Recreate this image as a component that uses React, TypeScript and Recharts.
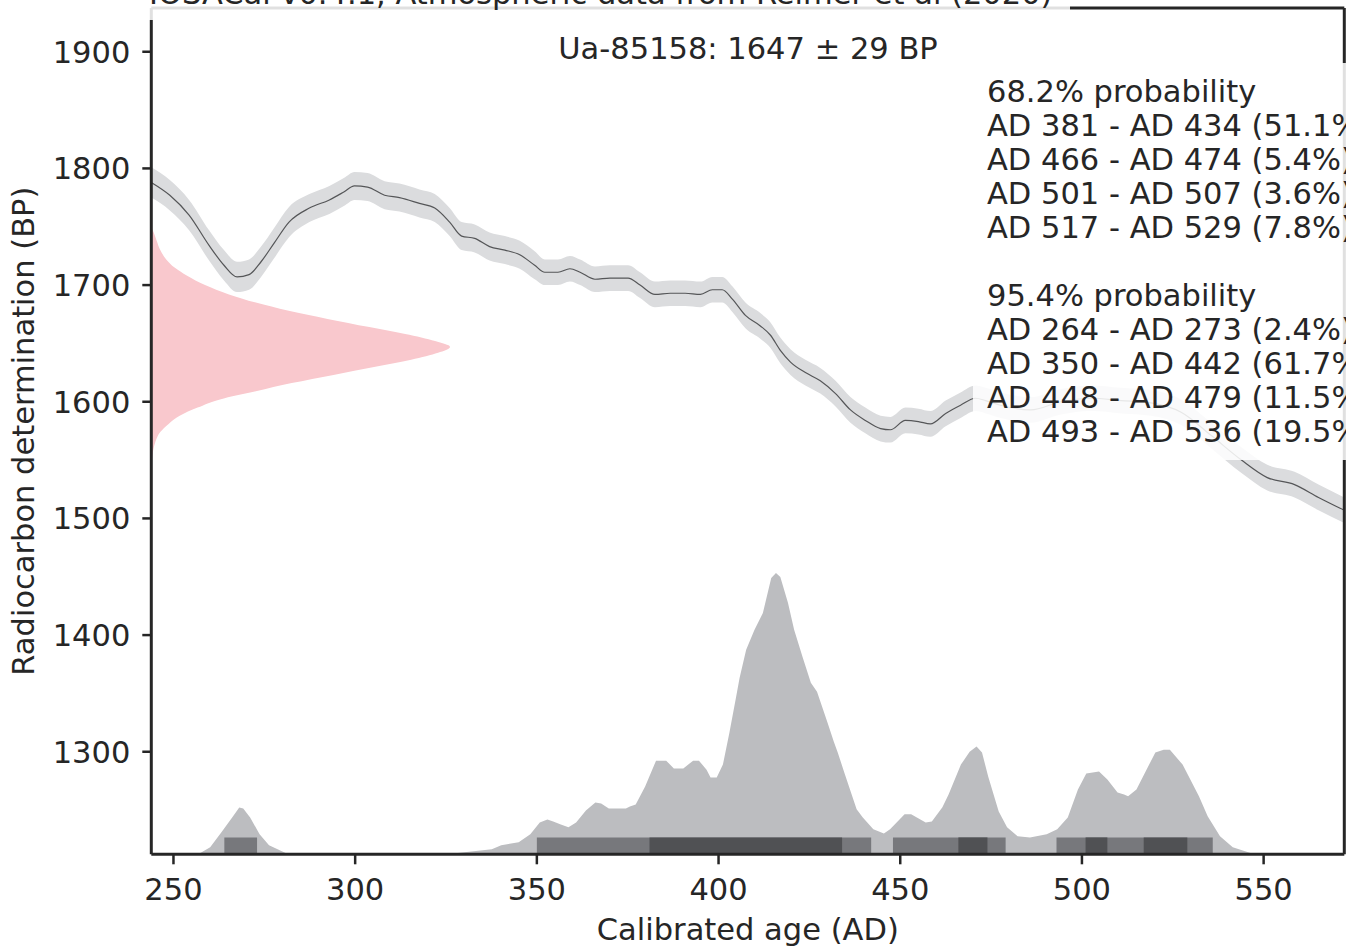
import React from 'react';
import { ComposedChart, Area, Line, XAxis, YAxis, ReferenceArea } from 'recharts';

const W = 1362;
const H = 947;
const FONT = "'DejaVu Sans', sans-serif";
const INK = '#262626';
const FS = 30.5;

// calibration curve (IntCal20 segment)
const curveYears = [
  243.9, 249, 254.3, 259.8, 263.9, 267.5, 270.8, 274.1, 277.7, 281.8,
  287.4, 292.9, 297, 299.8, 303.4, 308.1, 312.2, 317.7, 321.9, 326,
  329.3, 332.9, 337, 341.2, 345.3, 349.4, 352.2, 355.8, 359.1, 361.9,
  366, 370.1, 375.1, 378.4, 382.5, 386.7, 390.8, 395, 398.3, 401,
  403.8, 407.4, 411.5, 414.3, 417, 419.8, 423.9, 428, 432.2, 436.3,
  440.4, 444.6, 447.3, 451.4, 455, 458.3, 462.5, 466.6, 470.7, 473.5,
  477.6, 485.9, 494.2, 502.5, 510.8, 519, 527.3, 535.6, 543.9, 551,
  558.5, 565.1, 572.2,
];
const curveMean = [
  1788, 1777, 1760, 1734, 1717, 1707, 1709, 1720, 1736, 1754,
  1766, 1773, 1780, 1785, 1784, 1777, 1775, 1770, 1766, 1754,
  1742, 1740, 1733, 1730, 1726, 1717, 1711, 1711, 1714, 1711,
  1705, 1706, 1706, 1700, 1692, 1693, 1693, 1692, 1696, 1696,
  1688, 1674, 1665, 1657, 1644, 1634, 1625, 1618, 1607, 1593,
  1584, 1577, 1576, 1584, 1583, 1581, 1590, 1597, 1603, 1601,
  1597, 1593, 1600, 1603, 1601, 1599, 1591, 1571, 1550, 1535,
  1529, 1518, 1507,
];
const curveErr = [
  13, 13, 13, 13, 13, 13, 13, 13, 13, 13,
  12, 12, 12, 12, 12, 12, 12, 12, 12, 12,
  12, 12, 12, 12, 12, 12, 11, 11, 11, 11,
  11, 11, 11, 11, 11, 11, 11, 11, 11, 11,
  11, 11, 11, 11, 11, 11, 11, 11, 11, 11,
  11, 11, 11, 11, 11, 11, 11, 11, 11, 11,
  11, 11, 11, 11, 11, 11, 11, 11, 11, 11,
  11, 11, 11,
];

// radiocarbon determination 1647 ± 29 BP (relative density, drawn sideways)
const detBP = [
  1750, 1745, 1738, 1730, 1722, 1715, 1708, 1700, 1692, 1685,
  1678, 1671, 1664, 1658, 1652, 1647, 1642, 1636, 1630, 1623,
  1616, 1609, 1602, 1595, 1588, 1581, 1574, 1566, 1558, 1550, 1544,
];
const detDens = [
  0, 0.008, 0.018, 0.03, 0.05, 0.078, 0.12, 0.18, 0.26, 0.35,
  0.46, 0.59, 0.73, 0.85, 0.95, 1.0, 0.96, 0.87, 0.75, 0.61,
  0.47, 0.35, 0.23, 0.155, 0.095, 0.058, 0.03, 0.014, 0.006, 0.002, 0,
];

// calibrated age distribution (relative probability, peak = 100)
const calYears = [
  243.9, 256.8, 260.1, 263.2, 266.4, 268.1, 269.2, 271.1, 273.7, 276.3,
  281, 282.4, 320, 327.6, 337.6, 340.2, 345, 348.2, 350.8, 352.9,
  354.5, 356.6, 358.7, 360.8, 363.5, 366.1, 367.7, 369.8, 374.5, 375.6,
  377.2, 379.8, 382.8, 385.6, 387.7, 390.3, 393, 394.6, 396.7, 397.8,
  399.5, 401.2, 403, 404.7, 405.8, 407.6, 409.9, 412.2, 414.5, 415.8,
  417, 419.1, 420.8, 423.1, 425.4, 427.1, 430, 431.7, 432.8, 434.6,
  438, 439.7, 442.6, 445.5, 447.2, 451.2, 453, 457, 458.7, 461.6,
  463.3, 466.7, 469.1, 471, 472.5, 474.2, 477.1, 479.4, 482.3, 485.7,
  490.3, 493.2, 496.1, 498.9, 501.2, 504.7, 507, 509.8, 511.6, 512.7,
  515, 518.5, 520.2, 522.5, 524.2, 527.7, 532.2, 534.6, 538, 541.5,
  546.6, 549, 572.2,
];
const calProb = [
  0, 0, 2.5, 7.8, 13.5, 16.6, 16.3, 13.1, 7.1, 3.2,
  0.4, 0, 0, 0.4, 1.8, 3.2, 4.3, 7.1, 11.3, 12.4,
  11.7, 10.6, 9.6, 11.3, 15.6, 18.4, 18.1, 16.3, 16.3, 17.0,
  17.7, 24.1, 33.3, 33.3, 30.5, 30.5, 33.3, 33.3, 30.1, 27.3,
  27.3, 31.9, 43.3, 55.0, 62.8, 72.7, 79.8, 85.8, 98.2, 100,
  98.6, 89.4, 79.8, 70.2, 61.0, 57.8, 46.8, 40.1, 36.2, 29.1,
  16.0, 13.1, 8.9, 7.4, 8.9, 14.2, 14.2, 11.3, 11.7, 16.7,
  21.3, 31.9, 36.5, 38.3, 36.2, 27.7, 15.2, 9.6, 6.4, 6.0,
  7.1, 8.9, 13.1, 23.0, 28.7, 29.4, 26.6, 22.0, 21.3, 20.6,
  23.0, 31.9, 36.2, 37.2, 37.2, 31.9, 20.6, 13.5, 6.4, 2.5,
  0.4, 0, 0,
];

// highest density ranges
const hpd68 = [[381, 434], [466, 474], [501, 507], [517, 529]];
const hpd68Pct = [51.1, 5.4, 3.6, 7.8];
const hpd95 = [[264, 273], [350, 442], [448, 479], [493, 536]];
const hpd95Pct = [2.4, 61.7, 11.5, 19.5];

const xTicks = [250, 300, 350, 400, 450, 500, 550];
const yTicks = [1300, 1400, 1500, 1600, 1700, 1800, 1900];
const xDomain = [243.9, 572.2];
const yDomain = [1212.1, 1937.5];

const curveRows = curveYears.map((year, i) => ({
  year,
  mean: curveMean[i],
  band: [curveMean[i] - curveErr[i], curveMean[i] + curveErr[i]],
}));
const detRows = detBP.map((bp, i) => ({ bp, dens: detDens[i] }));
const calRows = calYears.map((year, i) => ({ year, p: calProb[i] }));

// top/right axes are 1px wide so they still get drawn as the frame
const margin = { top: 7, right: 16.7, bottom: 0, left: 0 };
const tickStyle = { fontSize: FS, fill: INK, fontFamily: FONT };
const spine = { stroke: INK, strokeWidth: 3 };

export default function App() {
  const legend = [
    '68.2% probability',
    ...hpd68.map((r, i) => `AD ${r[0]} - AD ${r[1]} (${hpd68Pct[i]}%)`),
    '',
    '95.4% probability',
    ...hpd95.map((r, i) => `AD ${r[0]} - AD ${r[1]} (${hpd95Pct[i]}%)`),
  ];

  return (
    <div style={{ position: 'absolute', left: 0, top: 0, width: W, height: H, background: '#fff', fontFamily: FONT }}>
      {/* measured date, drawn sideways against the BP axis */}
      <div style={{ position: 'absolute', left: 0, top: 0 }}>
        <ComposedChart
          layout="vertical"
          width={W}
          height={H}
          data={detRows}
          margin={{ top: 8, right: 17.7, bottom: 92.7, left: 151.3 }}
        >
          <XAxis type="number" domain={[0, 3.994]} allowDataOverflow hide />
          <YAxis type="number" dataKey="bp" domain={yDomain} allowDataOverflow reversed hide />
          <Area
            type="monotone"
            dataKey="dens"
            stroke="none"
            fill="#f9c8cd"
            fillOpacity={1}
            isAnimationActive={false}
          />
        </ComposedChart>
      </div>

      <div style={{ position: 'absolute', left: 0, top: 0 }}>
        <ComposedChart width={W} height={H} margin={margin}>
          <XAxis
            xAxisId="x"
            type="number"
            dataKey="year"
            domain={xDomain}
            allowDataOverflow
            ticks={xTicks}
            height={92.7}
            tickSize={10}
            tickMargin={14}
            axisLine={spine}
            tickLine={{ stroke: INK, strokeWidth: 2.5 }}
            tick={tickStyle}
            label={{ value: 'Calibrated age (AD)', position: 'insideBottom', offset: 7, fontSize: FS, fill: INK, fontFamily: FONT }}
          />
          <XAxis xAxisId="top" orientation="top" type="number" domain={xDomain} allowDataOverflow height={1} tick={false} tickLine={false} axisLine={spine} />
          <YAxis
            yAxisId="bp"
            type="number"
            domain={yDomain}
            allowDataOverflow
            ticks={yTicks}
            width={151.3}
            tickSize={9}
            tickMargin={12}
            axisLine={spine}
            tickLine={{ stroke: INK, strokeWidth: 2.5 }}
            tick={tickStyle}
            label={{
              value: 'Radiocarbon determination (BP)',
              position: 'insideLeft',
              angle: -90,
              offset: 23,
              fontSize: FS,
              fill: INK,
              fontFamily: FONT,
              style: { textAnchor: 'middle' },
            }}
          />
          <YAxis yAxisId="right" orientation="right" type="number" domain={yDomain} allowDataOverflow width={1} tick={false} tickLine={false} axisLine={spine} />
          <YAxis yAxisId="prob" type="number" domain={[0, 300.9]} allowDataOverflow hide />

          <Area
            xAxisId="x"
            yAxisId="bp"
            data={curveRows}
            dataKey="band"
            type="monotone"
            stroke="none"
            fill="#dbdcde"
            fillOpacity={1}
            isAnimationActive={false}
          />
          <Line
            xAxisId="x"
            yAxisId="bp"
            data={curveRows}
            dataKey="mean"
            type="monotone"
            stroke="#555658"
            strokeWidth={1.2}
            dot={false}
            isAnimationActive={false}
          />
          <Area
            xAxisId="x"
            yAxisId="prob"
            data={calRows}
            dataKey="p"
            type="linear"
            stroke="none"
            fill="#bcbdc0"
            fillOpacity={1}
            isAnimationActive={false}
          />
          {hpd95.map((r) => (
            <ReferenceArea key={`95-${r[0]}`} xAxisId="x" yAxisId="prob" x1={r[0]} x2={r[1]} y1={0} y2={6} fill="#77787c" fillOpacity={1} stroke="none" />
          ))}
          {hpd68.map((r) => (
            <ReferenceArea key={`68-${r[0]}`} xAxisId="x" yAxisId="prob" x1={r[0]} x2={r[1]} y1={0} y2={6} fill="#505154" fillOpacity={1} stroke="none" />
          ))}
        </ComposedChart>
      </div>

      {/* title, annotation and the legend box, clipped at the figure edge */}
      <svg
        width={1346}
        height={H}
        style={{ position: 'absolute', left: 0, top: 0, overflow: 'hidden' }}
        fontFamily={FONT}
        fontSize={FS}
        fill={INK}
      >
        <rect x={140} y={-40} width={930} height={60} fill="#fff" fillOpacity={0.86} />
        <text x={149} y={4}>IOSACal v0.4.1, Atmospheric data from Reimer et al (2020)</text>
        <text x={748} y={59} textAnchor="middle">Ua-85158: 1647 ± 29 BP</text>
        <rect x={973} y={63} width={400} height={397} fill="#fff" fillOpacity={0.86} />
        {legend.map((s, i) => (
          <text key={i} x={987} y={101.5 + i * 34}>{s}</text>
        ))}
      </svg>
    </div>
  );
}
